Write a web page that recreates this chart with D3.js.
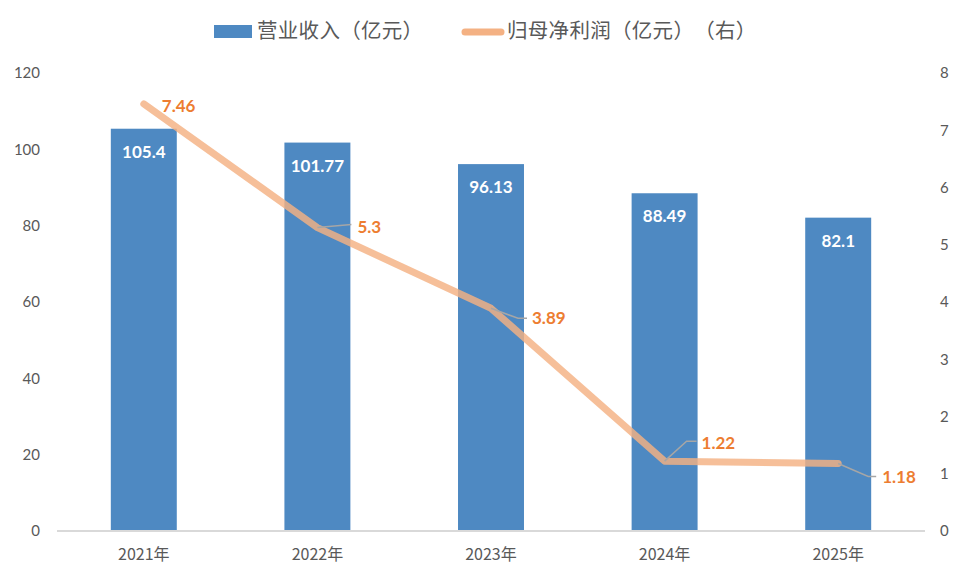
<!DOCTYPE html>
<html><head><meta charset="utf-8">
<script src="https://cdn.jsdelivr.net/npm/d3@7"></script>
<style>body{margin:0;background:#fff}</style>
</head><body>
<svg id="c" width="966" height="580"></svg>
<script>
const categories = ["2021年","2022年","2023年","2024年","2025年"];
const revenue = [105.4, 101.77, 96.13, 88.49, 82.1];
const profit = [7.46, 5.3, 3.89, 1.22, 1.18];
const revenueLabels = ["105.4","101.77","96.13","88.49","82.1"];
const profitLabels = ["7.46","5.3","3.89","1.22","1.18"];
const leftTicks = [0,20,40,60,80,100,120];
const rightTicks = [0,1,2,3,4,5,6,7,8];
const legendNames = ["营业收入（亿元）","归母净利润（亿元）（右）"];
// label offsets for profit labels (leader line elbow dx,dy ; label dx,dy relative to point)
const profitLabelPos = [
  {lead:false, lx:18, ly:2},
  {lead:true, ex:34, ey:-3, hx:34, lx:40, ly:-1},
  {lead:true, ex:27, ey:10, hx:36, lx:41, ly:10},
  {lead:true, ex:22, ey:-20, hx:32, lx:37, ly:-18},
  {lead:true, ex:30, ey:13, hx:38, lx:44, ly:14}
];

const svg = d3.select("#c");
const numFont = "Lato, 'Noto Sans', sans-serif";
const cjkFont = "'Noto Sans CJK SC', 'Noto Sans', sans-serif";
const x0 = 57, x1 = 925, yTop = 73, yBot = 531;

const x = d3.scaleBand().domain(categories).range([x0, x1]).paddingInner(0.62).paddingOuter(0.31);
const yL = d3.scaleLinear().domain([0,120]).range([yBot, yTop]);
const yR = d3.scaleLinear().domain([0,8]).range([yBot, yTop]);

// bars
svg.append("g").selectAll("rect").data(revenue).join("rect")
  .attr("x",(d,i)=>x(categories[i])).attr("width",x.bandwidth())
  .attr("y",d=>yL(d)).attr("height",d=>yBot-yL(d)).attr("fill","#4E89C2");

// baseline
svg.append("line").attr("x1",x0).attr("x2",x1).attr("y1",yBot).attr("y2",yBot)
  .attr("stroke","#D9D9D9").attr("stroke-width",2);

// left axis
const gl = svg.append("g").attr("transform",`translate(40,0)`)
  .call(d3.axisLeft(yL).tickValues(leftTicks).tickSize(0).tickPadding(0));
gl.select(".domain").remove();
gl.selectAll("text").attr("font-family",numFont).attr("font-size",15).attr("fill","#595959");

// right axis
const gr = svg.append("g").attr("transform",`translate(940,0)`)
  .call(d3.axisRight(yR).tickValues(rightTicks).tickSize(0).tickPadding(0));
gr.select(".domain").remove();
gr.selectAll("text").attr("font-family",numFont).attr("font-size",15).attr("fill","#595959");

// x axis
const gx = svg.append("g").attr("transform",`translate(0,${yBot})`)
  .call(d3.axisBottom(x).tickSize(0).tickPadding(18));
gx.select(".domain").remove();
gx.selectAll("text").attr("font-family",cjkFont).attr("font-size",16).attr("fill","#595959");

// bar labels
svg.append("g").selectAll("text").data(revenue).join("text")
  .attr("x",(d,i)=>x(categories[i])+x.bandwidth()/2).attr("y",d=>yL(d)+23)
  .attr("dy","0.35em").attr("text-anchor","middle")
  .attr("font-family",numFont).attr("font-weight","bold").attr("font-size",17)
  .attr("fill","#fff").text((d,i)=>revenueLabels[i]);

// line
const cx = c => x(c)+x.bandwidth()/2;
const line = d3.line().x((d,i)=>cx(categories[i])).y(d=>yR(d));
svg.append("path").datum(profit).attr("d",line).attr("fill","none")
  .attr("stroke","#F4B183").attr("stroke-opacity",0.82).attr("stroke-width",7)
  .attr("stroke-linecap","round").attr("stroke-linejoin","round");

// leader lines & labels
profit.forEach((v,i)=>{
  const px = cx(categories[i]), py = yR(v), p = profitLabelPos[i];
  if (p.lead) {
    svg.append("polyline")
      .attr("points",`${px},${py} ${px+p.ex},${py+p.ey} ${px+p.hx},${py+p.ey}`)
      .attr("fill","none").attr("stroke","#A6A6A6").attr("stroke-width",1.5);
  }
  svg.append("text").attr("x",px+p.lx).attr("y",py+p.ly).attr("dy","0.35em")
    .attr("font-family",numFont).attr("font-weight","bold").attr("font-size",17)
    .attr("fill","#ED7D31").text(profitLabels[i]);
});

// legend
const lg = svg.append("g");
lg.append("rect").attr("x",214).attr("y",25).attr("width",38).attr("height",13).attr("fill","#4E89C2");
lg.append("line").attr("x1",465).attr("x2",501).attr("y1",32).attr("y2",32)
  .attr("stroke","#F4B183").attr("stroke-width",7).attr("stroke-linecap","round");
const cell = 20.8;
[[257, legendNames[0]],[507, legendNames[1]]].forEach(([sx, name])=>{
  Array.from(name).forEach((ch,i)=>{
    lg.append("text").attr("x",sx+i*cell).attr("y",31).attr("dy","0.36em")
      .attr("font-family",cjkFont).attr("font-size",20.5).attr("fill","#595959").text(ch);
  });
});
</script>
</body></html>
